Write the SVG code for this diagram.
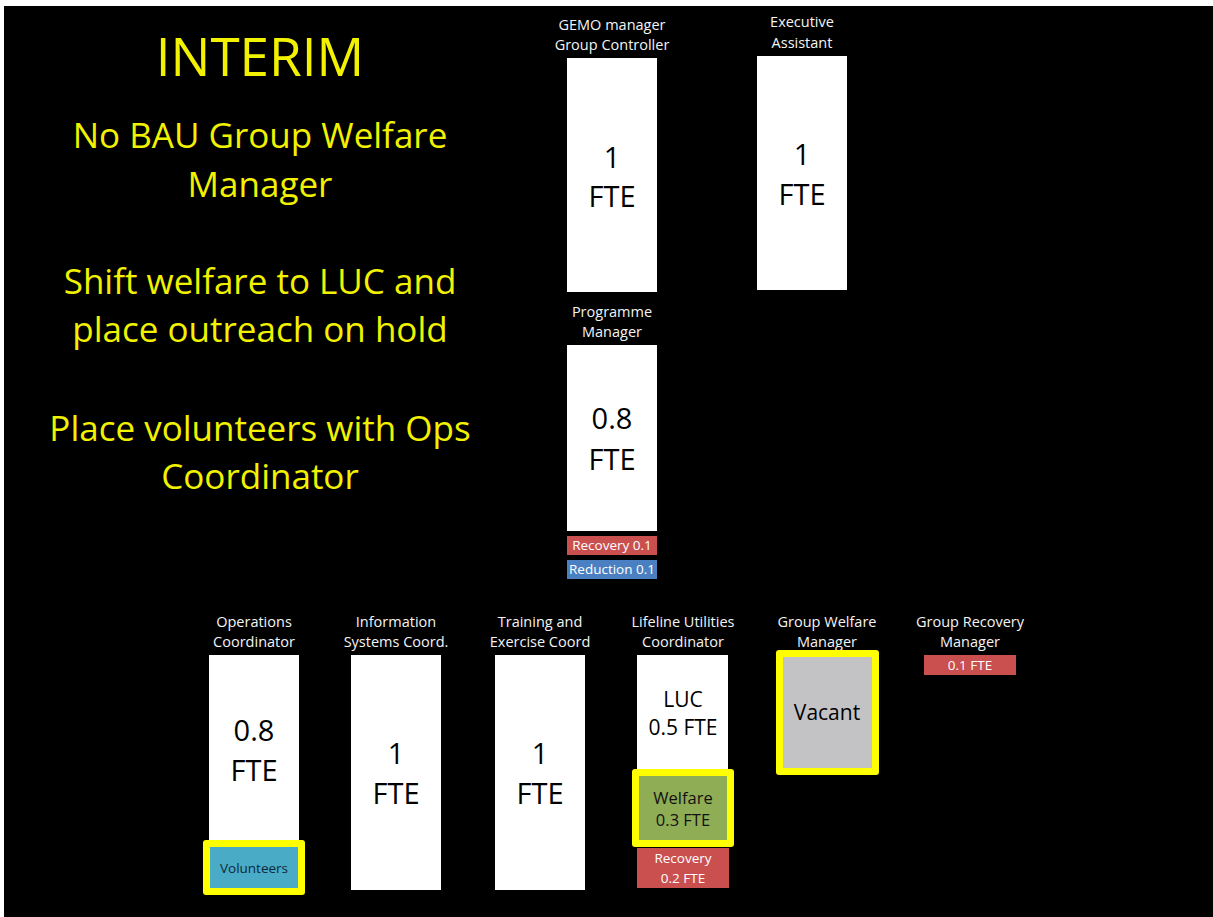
<svg xmlns="http://www.w3.org/2000/svg" width="1213" height="917" viewBox="0 0 1213 917">
  <style>
    text { font-family: "Open Sans", "Noto Sans", "Liberation Sans", sans-serif; text-anchor: middle; }
    .note { fill: #f2f200; font-size: 35px; }
    .title { fill: #f2f200; font-size: 53px; }
    .role { fill: #f4f4f4; font-size: 14.5px; }
    .box { fill: #ffffff; }
    .big { fill: #000000; font-size: 29px; }
    .mid { fill: #000000; font-size: 21px; }
    .small { font-size: 13.5px; }
    .red { fill: #c9504f; }
    .blue { fill: #4a7fc1; }
    .hl { fill: #ffff00; }
  </style>

  <rect x="0" y="0" width="1213" height="917" fill="#ffffff"/>
  <rect x="4" y="6" width="1209" height="911" fill="#000000"/>

  <!-- Summary notes -->
  <g id="notes">
    <text class="title" x="260" y="76">INTERIM</text>
    <text class="note" x="260" y="148">No BAU Group Welfare</text>
    <text class="note" x="260" y="197">Manager</text>
    <text class="note" x="260" y="294">Shift welfare to LUC and</text>
    <text class="note" x="260" y="342">place outreach on hold</text>
    <text class="note" x="260" y="441">Place volunteers with Ops</text>
    <text class="note" x="260" y="489">Coordinator</text>
  </g>

  <!-- Top level -->
  <g id="gemo-manager">
    <text class="role" x="612" y="30">GEMO manager</text>
    <text class="role" x="612" y="50">Group Controller</text>
    <rect class="box" x="567" y="58" width="90" height="234"/>
    <text class="big" x="612" y="168">1</text>
    <text class="big" x="612" y="207">FTE</text>
  </g>

  <g id="executive-assistant">
    <text class="role" x="802" y="27">Executive</text>
    <text class="role" x="802" y="48">Assistant</text>
    <rect class="box" x="757" y="56" width="90" height="234"/>
    <text class="big" x="802" y="165">1</text>
    <text class="big" x="802" y="205">FTE</text>
  </g>

  <g id="programme-manager">
    <text class="role" x="612" y="317">Programme</text>
    <text class="role" x="612" y="337">Manager</text>
    <rect class="box" x="567" y="345" width="90" height="186"/>
    <text class="big" x="612" y="429">0.8</text>
    <text class="big" x="612" y="470">FTE</text>
    <rect class="red" x="567" y="536" width="90" height="19"/>
    <text class="small" x="612" y="550" fill="#ffffff">Recovery 0.1</text>
    <rect class="blue" x="567" y="560" width="90" height="19"/>
    <text class="small" x="612" y="574" fill="#ffffff">Reduction 0.1</text>
  </g>

  <!-- Coordinators -->
  <g id="operations-coordinator">
    <text class="role" x="254" y="627">Operations</text>
    <text class="role" x="254" y="647">Coordinator</text>
    <rect class="box" x="209" y="655" width="90" height="190"/>
    <text class="big" x="254" y="741">0.8</text>
    <text class="big" x="254" y="781">FTE</text>
    <rect class="hl" x="203" y="840" width="102" height="55" rx="3"/>
    <rect x="210" y="847" width="88" height="41" fill="#4aabc6"/>
    <text class="small" x="254" y="873" fill="#0b2a3a">Volunteers</text>
  </g>

  <g id="information-systems">
    <text class="role" x="396" y="627">Information</text>
    <text class="role" x="396" y="647">Systems Coord.</text>
    <rect class="box" x="351" y="655" width="90" height="235"/>
    <text class="big" x="396" y="764">1</text>
    <text class="big" x="396" y="804">FTE</text>
  </g>

  <g id="training-exercise">
    <text class="role" x="540" y="627">Training and</text>
    <text class="role" x="540" y="647">Exercise Coord</text>
    <rect class="box" x="495" y="655" width="90" height="235"/>
    <text class="big" x="540" y="764">1</text>
    <text class="big" x="540" y="804">FTE</text>
  </g>

  <g id="lifeline-utilities">
    <text class="role" x="683" y="627">Lifeline Utilities</text>
    <text class="role" x="683" y="647">Coordinator</text>
    <rect class="box" x="637" y="655" width="91" height="120"/>
    <text class="mid" x="683" y="707">LUC</text>
    <text class="mid" x="683" y="735">0.5 FTE</text>
    <rect class="hl" x="632" y="769" width="102" height="78" rx="3"/>
    <rect x="639" y="776" width="88" height="64" fill="#8fad55"/>
    <text x="683" y="804" font-size="16.5" fill="#111111">Welfare</text>
    <text x="683" y="826" font-size="16.5" fill="#111111">0.3 FTE</text>
    <rect class="red" x="637" y="848" width="92" height="40"/>
    <text class="small" x="683" y="863" fill="#ffffff">Recovery</text>
    <text class="small" x="683" y="883" fill="#ffffff">0.2 FTE</text>
  </g>

  <g id="group-welfare-manager">
    <text class="role" x="827" y="627">Group Welfare</text>
    <text class="role" x="827" y="647">Manager</text>
    <rect class="hl" x="776" y="650" width="103" height="125" rx="3"/>
    <rect x="783" y="657" width="89" height="111" fill="#c3c3c6"/>
    <text x="827" y="720" font-size="21" fill="#000000">Vacant</text>
  </g>

  <g id="group-recovery-manager">
    <text class="role" x="970" y="627">Group Recovery</text>
    <text class="role" x="970" y="647">Manager</text>
    <rect class="red" x="924" y="655" width="92" height="20"/>
    <text class="small" x="970" y="670" fill="#ffffff">0.1 FTE</text>
  </g>

  <g id="connectors"></g>
</svg>
